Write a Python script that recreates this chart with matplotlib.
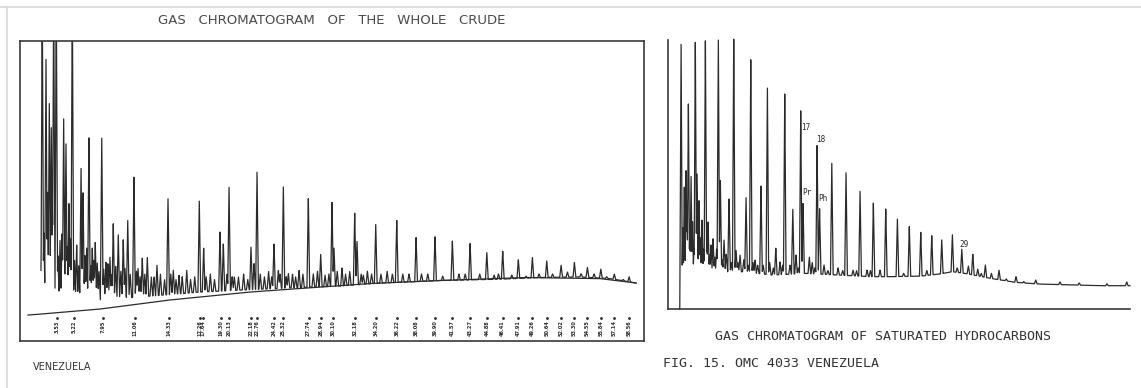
import matplotlib.pyplot as plt
import numpy as np
from matplotlib.lines import Line2D

# ----- Matplotlib settings -----
plt.rcParams["font.family"] = "DejaVu Sans"
INK = "#2b2b2b"

# ----- Data -----
# Whole crude: retention time [min], detector response [% of full scale]
crude_peak_t = [2.09, 2.14, 2.50, 2.82, 3.01, 3.24, 3.49, 3.85, 4.20, 4.42, 4.71, 5.03,
                5.87, 6.06, 6.41, 6.63, 6.95, 7.24, 7.43, 7.86, 8.27, 8.65, 8.97, 9.45,
                9.93, 10.36, 10.96, 11.35, 11.76, 12.24, 12.63, 13.17, 14.23, 14.74, 15.29,
                16.03, 17.24, 17.66, 19.23, 19.55, 20.10, 20.61, 22.21, 22.50, 22.79, 24.42,
                24.84, 25.32, 25.80, 26.83, 27.72, 28.91, 29.33, 30.00, 30.19, 30.96, 32.18,
                32.40, 33.01, 34.20, 36.22, 38.08, 39.90, 40.64, 41.57, 43.27, 44.88, 45.58,
                46.41, 47.28, 47.91, 48.65, 49.26, 50.64, 52.02, 52.63, 53.30, 53.94, 54.55,
                55.19, 55.84, 57.14, 58.56]
crude_peak_r = [34.7, 120, 95.6, 77.8, 69.3, 120, 120, 27.4, 71.9, 63.9, 40.9, 120,
                54.5, 45.6, 24.9, 65.1, 24.9, 26.6, 19.0, 65.7, 19.3, 21.2, 33.6, 29.6,
                27.7, 34.7, 50.8, 17.2, 20.8, 21.3, 13.9, 18.2, 43.1, 16.4, 14.6,
                16.4, 41.7, 24.5, 30.4, 26.3, 46.7, 13.9, 24.9, 19.0, 52.3, 26.3,
                16.4, 46.8, 15.3, 16.4, 43.2, 22.3, 14.6, 41.4, 24.5, 17.2, 37.3,
                27.1, 14.6, 33.2, 35.0, 28.4, 28.9, 14.2, 27.1, 26.4, 22.9, 14.6,
                23.5, 14.6, 20.3, 14.2, 21.1, 19.8, 18.2, 15.7, 19.2, 15.1, 17.4,
                15.0, 16.8, 14.9, 14.0]
# small unresolved peaks riding on the hump
crude_minor_t = [2.3, 2.65, 3.12, 3.65, 4.05, 4.55, 4.85, 5.25, 5.45, 5.65, 6.25, 6.8,
                 7.1, 7.6, 8.05, 8.45, 8.8, 9.2, 9.7, 10.1, 10.6, 11.2, 11.55, 12.0,
                 12.9, 13.5, 13.9, 14.5, 15.0, 15.6, 16.4, 16.8, 17.9, 18.3, 18.7,
                 19.9, 20.4, 21.0, 21.5, 21.9, 23.1, 23.5, 23.9, 24.2, 25.0, 25.6,
                 26.2, 26.5, 27.2, 28.2, 28.6, 29.7, 30.5, 31.3, 31.7, 32.8, 33.4,
                 33.8, 34.7, 35.3, 35.8, 36.8, 37.4, 38.6, 39.2, 42.2, 42.8, 44.2,
                 46.0, 49.9, 51.2, 56.4, 58.0]
crude_minor_r = [30, 45, 38, 22, 30, 25, 28, 20, 26, 18, 22, 18, 20, 16, 17, 19, 15, 18,
                 16, 17, 15, 16, 14, 15, 14, 15, 13, 15, 13, 14, 13, 14, 14, 15, 13,
                 15, 14, 14, 15, 13, 15, 14, 16, 14, 15, 14, 15, 14, 15, 15, 16, 15,
                 16, 15, 16, 15, 16, 15, 15, 16, 15, 15, 15, 15, 15, 15, 15, 15, 15,
                 15, 15, 14, 13]
crude_floor_t = [2.02, 3.85, 7.69, 12.50, 17.31, 21.15, 25.96, 30.77, 34.62, 40.38,
                 46.15, 50.00, 53.85, 56.73, 59.23]
crude_floor_r = [0.7, 3.6, 5.5, 6.9, 8.4, 9.1, 9.9, 10.6, 11.7, 12.6,
                 13.1, 13.7, 13.9, 13.3, 11.7]
crude_base_t = [0.77, 2.12, 7.69, 14.42, 22.12, 33.65, 40.38, 48.65, 55.77, 59.23]
crude_base_r = [0.0, 0.4, 2.2, 5.5, 8.4, 11.5, 12.6, 13.7, 13.3, 11.7]
crude_label_t = [3.53, 5.22, 7.95, 11.06, 14.33, 17.26, 17.64, 19.30, 20.13, 22.18, 22.76,
                 24.42, 25.32, 27.74, 28.94, 30.10, 32.18, 34.20, 36.22, 38.08, 39.90,
                 41.57, 43.27, 44.88, 46.41, 47.91, 49.26, 50.64, 52.02, 53.30, 54.55,
                 55.84, 57.14, 58.56]

# Saturated hydrocarbons
sat_peak_t = [1.41, 1.76, 1.95, 2.20, 2.49, 2.95, 3.14, 3.35, 3.68, 4.04, 4.33, 4.65,
              4.87, 5.44, 5.66, 6.06, 6.60, 7.11, 7.36, 7.79, 8.44, 8.95, 9.42, 10.06,
              10.75, 11.66, 12.12, 12.63, 13.50, 13.85, 14.36, 14.61, 15.29, 16.13, 16.40,
              16.88, 17.72, 18.40, 19.26, 20.02, 20.78, 21.54, 22.22, 22.94, 23.56, 24.82,
              26.11, 27.35, 28.54, 29.62, 30.77, 31.79, 32.50, 32.98, 33.52, 34.34, 35.82,
              37.66, 39.79, 42.42, 49.64]
sat_peak_r = [98.2, 44.6, 50.7, 75.4, 48.9, 99.0, 50.0, 39.8, 32.5, 99.4, 31.8, 23.4,
              25.9, 99.6, 47.1, 25.2, 40.6, 100.0, 21.5, 19.7, 41.0, 91.9, 17.9, 45.3,
              81.8, 22.3, 17.2, 78.9, 36.8, 19.7, 72.6, 38.7, 19.0, 60.5, 36.8,
              16.1, 53.8, 15.0, 50.4, 14.2, 43.2, 14.2, 38.9, 14.2, 36.8, 33.1,
              30.4, 28.0, 27.0, 25.4, 27.3, 21.9, 15.7, 20.0, 14.6, 16.1, 14.2,
              11.8, 10.6, 9.9, 9.9]
sat_minor_t = [1.6, 2.05, 2.35, 2.65, 2.8, 3.5, 3.85, 4.2, 4.5, 5.05, 5.25, 5.85, 6.3,
               6.85, 7.55, 8.2, 8.7, 9.2, 9.7, 10.3, 11.0, 11.4, 12.4, 13.2, 14.1,
               15.6, 15.9, 17.3, 18.9, 20.4, 21.9, 25.5, 28.0, 31.3, 33.9, 35.0,
               36.6, 38.5, 44.5, 47.5]
sat_minor_r = [30, 35, 28, 32, 22, 26, 22, 24, 20, 19, 22, 18, 20, 17, 17, 18, 16, 17,
               16, 16, 17, 15, 16, 16, 15, 17, 15, 14, 14, 14, 14, 13, 14, 15, 13,
               13, 11, 10, 9.5, 9.2]
sat_floor_t = [1.19, 1.73, 2.92, 4.00, 5.84, 8.01, 11.26, 14.86, 18.40, 22.08, 24.03,
               27.27, 29.44, 30.74, 32.14, 34.85, 37.66, 40.26, 43.51, 46.75, 50.00]
sat_floor_r = [0.0, 2.7, 8.8, 11.2, 13.6, 13.6, 12.4, 13.0, 12.4, 11.8, 11.8,
               12.0, 12.8, 13.6, 13.0, 11.2, 9.7, 9.1, 8.8, 8.5, 8.5]
sat_note_text = ["17", "18", "Pr", "Ph", "29"]
sat_note_t = [14.94, 16.56, 15.04, 16.77, 32.03]
sat_note_r = [66.1, 61.7, 42.7, 40.5, 23.4]


# ----- Functions -----
def build_trace(peak_t, peak_r, floor_t, floor_r, half_width, n=9000):
    grid = np.linspace(floor_t[0], floor_t[-1], n)
    base = np.interp(grid, floor_t, floor_r)
    bump = np.zeros_like(grid)
    for t, r in zip(peak_t, peak_r):
        h = r - np.interp(t, floor_t, floor_r)
        bump = np.maximum(bump, h * np.clip(1 - np.abs(grid - t) / half_width, 0, None))
    return grid, base + bump


def style_spines(ax, sides):
    for side in sides:
        ax.spines[side].set_linewidth(1.2)
        ax.spines[side].set_color("#3a3a3a")
    ax.set_xticks([])
    ax.set_yticks([])


# ----- Figure -----
fig = plt.figure(figsize=(11.41, 3.88), dpi=100)
fig.add_artist(Line2D([0, 1], [0.981, 0.981], color="#d8d8d8", lw=1.2))
fig.add_artist(Line2D([0.0057, 0.0057], [0, 0.981], color="#d8d8d8", lw=1.2))

# Left: whole crude
ax1 = fig.add_axes([0.0175, 0.121, 0.547, 0.773])
t, s = build_trace(crude_peak_t + crude_minor_t, crude_peak_r + crude_minor_r,
                   crude_floor_t, crude_floor_r, 0.13)
ax1.plot(crude_base_t, crude_base_r, color=INK, lw=0.9)
ax1.plot(t, s, color=INK, lw=0.9)
ax1.plot(crude_label_t, [-1.1] * len(crude_label_t), ls="none", marker=".", ms=2, color=INK)
for lt in crude_label_t:
    ax1.text(lt, -2.0, f"{lt:.2f}", rotation=90, fontsize=3.6, color=INK,
             fontweight="bold", ha="center", va="top")
ax1.set_xlim(0, 60)
ax1.set_ylim(-9.49, 100)
style_spines(ax1, ("left", "right", "top", "bottom"))

fig.text(0.291, 0.948, "GAS   CHROMATOGRAM   OF   THE   WHOLE   CRUDE", fontsize=9.5,
         color="#4a4a4a", ha="center", va="center")
fig.text(0.029, 0.054, "VENEZUELA", fontsize=7, color="#333333", ha="left", va="center")

# Right: saturated hydrocarbons
ax2 = fig.add_axes([0.5855, 0.2036, 0.4049, 0.7062])
t, s = build_trace(sat_peak_t + sat_minor_t, sat_peak_r + sat_minor_r,
                   sat_floor_t, sat_floor_r, 0.14)
ax2.plot(t, s, color=INK, lw=0.9, clip_on=False)
for txt, nt, nr in zip(sat_note_text, sat_note_t, sat_note_r):
    ax2.text(nt, nr, txt, fontsize=5.5, family="DejaVu Sans Mono", color=INK,
             ha="center", va="center")
ax2.set_xlim(0, 50)
ax2.set_ylim(0, 100)
ax2.spines["top"].set_visible(False)
ax2.spines["right"].set_visible(False)
ax2.spines["left"].set_bounds(0, 98.2)
style_spines(ax2, ("left", "bottom"))

fig.text(0.774, 0.132, "GAS CHROMATOGRAM OF SATURATED HYDROCARBONS", fontsize=9.5,
         family="DejaVu Sans Mono", color="#333333", ha="center", va="center")
fig.text(0.581, 0.062, "FIG. 15. OMC 4033 VENEZUELA", fontsize=9.5,
         family="DejaVu Sans Mono", color="#333333", ha="left", va="center")

fig.savefig("out.png", dpi=100)
